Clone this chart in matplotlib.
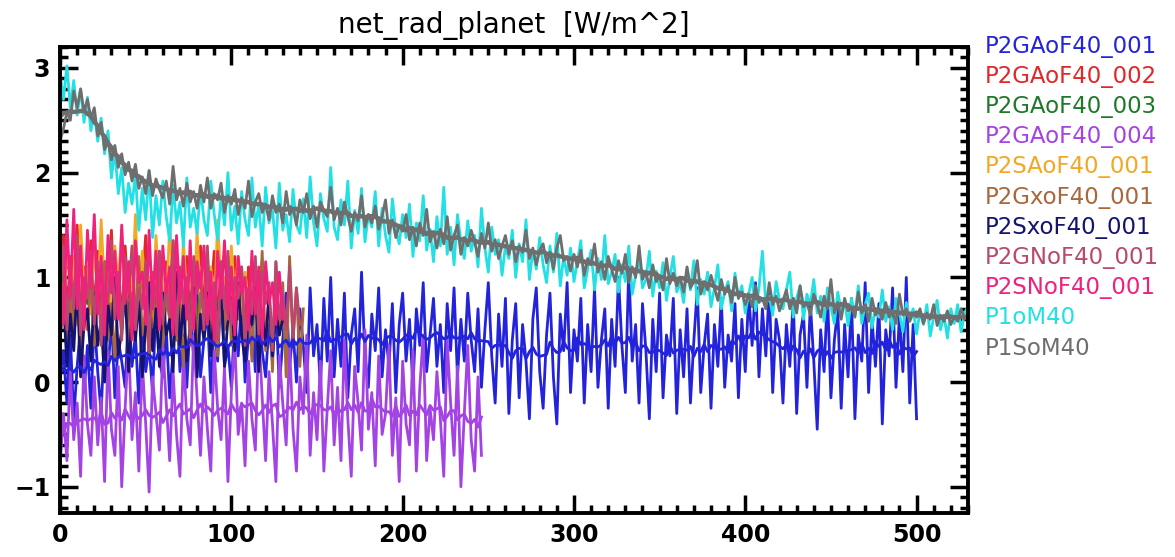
import numpy as np
import pandas as pd
import matplotlib
matplotlib.use("Agg")
import matplotlib.pyplot as plt
from matplotlib.ticker import MultipleLocator

# all runs sampled every 2 model years, starting at year 0
STEP = 2

names = ["P2GAoF40_001", "P2GAoF40_002", "P2GAoF40_003", "P2GAoF40_004",
         "P2SAoF40_001", "P2GxoF40_001", "P2SxoF40_001", "P2GNoF40_001",
         "P2SNoF40_001", "P1oM40", "P1SoM40"]
colors = ["#2323dc", "#e02828", "#1e7a28", "#a443e4", "#f2a825", "#a8673c",
          "#14146e", "#b8486c", "#f0207c", "#22e0e4", "#6e6e6e"]
# runs that get a running-mean curve on top
smoothed = ["P2GAoF40_001", "P2GAoF40_004", "P1SoM40"]

ga001 = [0.05, 0.30, -0.20, 0.45, -0.35, 0.15, 0.55, -0.10, 0.35, -0.25, 0.60,
         0.10, -0.30, 0.50, 0.05, 0.65, -0.15, 0.40, 0.20, -0.05, 0.70,
         0.15, 0.45, -0.20, 0.60, 0.10, 0.35, -0.10, 0.75, 0.20, 0.05,
         0.50, -0.15, 0.30, 0.80, 0.10, 0.45, -0.05, 0.62, 0.25, 0.85,
         0.05, 0.40, 0.70, -0.10, 0.55, 0.20, 0.90, 0.15, 0.35, -0.05,
         0.60, 0.25, 0.80, 0.00, 0.45, 0.65, 0.10, 0.95, 0.30, 0.05,
         0.55, 0.20, 0.75, -0.05, 0.40, 0.85, 0.15, 0.50, 0.00, 0.70,
         0.35, -0.10, 0.90, 0.25, 0.55, -0.05, 0.80, 0.20, 1.00, 0.05,
         0.60, 0.15, 0.85, -0.15, 0.45, 0.70, 0.10, 1.05, 0.25, -0.05,
         0.65, 0.30, 0.90, 0.05, 0.50, 0.15, 0.75, -0.10, 0.55, 0.85,
         0.20, 0.60, -0.05, 0.70, 0.35, 0.95, 0.10, 0.45, 0.80, 0.15,
         0.55, -0.10, 0.75, 0.30, 0.90, 0.05, 0.60, 0.20, 0.85, 0.40,
         0.10, 0.70, -0.05, 0.50, 0.95, 0.25, -0.20, 0.65, 0.15, 0.80,
         -0.30, 0.40, 0.75, -0.15, 0.55, 0.20, -0.35, 0.60, 0.90, 0.10,
         -0.25, 0.45, 0.85, 0.05, -0.40, 0.65, 0.30, 0.95, -0.10, 0.50,
         0.20, 0.80, -0.20, 0.55, 0.10, 0.90, -0.05, 0.40, 0.70, -0.25,
         0.60, 0.15, 1.00, 0.35, -0.10, 1.10, 0.20, 0.55, -0.20, 0.75,
         0.30, -0.35, 0.60, 0.10, 0.85, -0.15, 0.45, 0.25, 0.80, -0.30,
         0.50, 0.05, 0.70, -0.20, 0.40, 0.90, -0.10, 0.35, 0.65, -0.25,
         0.55, 0.15, 0.80, -0.05, 0.45, 0.20, 0.75, -0.15, 0.60, 0.10,
         0.85, 0.35, 0.95, 0.05, 0.70, 0.25, 0.90, -0.10, 0.60, 0.40,
         -0.20, 0.55, 0.15, 0.80, -0.30, 0.45, 0.65, -0.05, 0.75, 0.20,
         -0.45, 0.50, 0.10, 0.85, -0.15, 0.40, 0.70, -0.25, 0.55, 0.05,
         0.80, -0.35, 0.45, 0.20, 0.95, -0.10, 0.60, 0.15, 0.75, -0.40,
         0.50, 0.25, 0.90, -0.05, 0.65, 0.10, 1.00, -0.20, 0.55, -0.35]

ga002 = [0.90, 1.40, 0.60, 1.20, 0.75, 1.50, 0.55, 1.10, 0.85, 1.35, 0.65, 1.25,
         0.50, 1.15, 0.95, 1.45, 0.70, 1.05, 0.60, 1.30, 0.80, 1.20, 0.45, 1.10,
         0.90, 1.40, 0.65, 1.00, 0.75, 1.25, 0.55, 1.15, 0.85, 1.35, 0.60, 1.05,
         0.70, 1.20, 0.50, 1.10, 0.95, 1.30, 0.65, 1.00, 0.80, 1.25, 0.55, 1.15,
         0.75, 1.05, 0.60, 1.20, 0.85, 0.95, 0.50, 1.10, 0.70, 1.00, 0.65, 1.15, 0.80]

ga003 = [0.70, 1.10, 0.45, 0.95, 0.60, 1.20, 0.50, 0.85, 0.75, 1.05, 0.40, 0.90,
         0.65, 1.15, 0.55, 0.80, 0.70, 1.00, 0.45, 0.95, 0.60, 1.10, 0.50, 0.85,
         0.75, 1.05, 0.55, 0.90, 0.65, 1.00, 0.45, 0.85, 0.70, 1.10, 0.50, 0.95,
         0.60, 0.80, 0.75, 1.05, 0.55, 0.90, 0.65, 1.00, 0.50, 0.85, 0.70, 0.95,
         0.60, 0.80, 0.75]

ga004 = [-0.80, -0.30, -0.75, 0.10, -0.55, -0.20, -0.90, 0.25, -0.40, -0.70, 0.05,
         -0.60, -0.15, -0.95, 0.30, -0.45, -0.70, 0.15, -1.00, -0.25, 0.40,
         -0.55, -0.10, -0.85, 0.20, -0.40, -1.05, 0.05, -0.30, -0.65, 0.35,
         -0.20, -0.75, 0.10, -0.50, -0.90, 0.25, -0.35, -0.60, 0.45, -0.15,
         -0.70, 0.05, -0.45, -0.85, 0.30, -0.25, -0.55, 0.15, -0.95, -0.10,
         0.40, -0.50, -0.20, -0.80, 0.20, -0.35, -0.65, 0.50, -0.15, -0.75,
         0.10, -0.40, -0.95, 0.25, -0.20, -0.60, 0.35, -0.45, -0.85, 0.05,
         -0.30, 0.45, -0.70, -0.10, -0.55, 0.20, -0.85, -0.25, 0.30, -0.60,
         -0.05, -0.75, 0.40, -0.35, -0.90, 0.15, -0.20, -0.65, 0.50, -0.45,
         -0.10, -0.80, 0.25, -0.50, -0.30, 0.35, -0.70, -0.15, -0.95, 0.20,
         -0.40, -0.60, 0.30, -0.85, -0.05, 0.45, -0.75, -0.25, -0.55, 0.10,
         -0.35, -0.90, 0.40, -0.20, -0.70, 0.15, -1.00, -0.30, 0.35, -0.55,
         -0.85, 0.05, -0.70]

sa001 = [1.00, 0.60, 1.40, 0.80, 1.20, 0.55, 1.50, 0.90, 1.10, 0.65, 1.35, 0.75,
         1.55, 0.85, 1.05, 0.60, 1.30, 0.95, 1.45, 0.70, 1.15, 0.80, 1.60, 0.65,
         1.25, 0.90, 1.00, 0.55, 1.40, 0.85, 1.20, 0.70, 1.50, 0.95, 1.05, 0.60,
         1.35, 0.80, 1.15, 0.65, 1.45, 0.75, 1.25, 0.85, 1.10, 0.60, 1.55, 0.90,
         1.00, 0.70, 1.30, 0.80, 1.20, 0.65, 1.05, 0.75]

gx001 = [0.55, 0.95, 0.30, 0.85, 0.45, 1.10, 0.25, 0.70, 0.50, 1.00, 0.35, 0.80,
         0.60, 1.15, 0.40, 0.75, 0.20, 0.90, 0.55, 1.05, 0.30, 0.85, 0.65, 1.20,
         0.45, 0.70, 0.25, 0.95, 0.50, 1.10, 0.35, 0.80, 0.60, 1.00, 0.40, 0.75,
         0.15, 0.90, 0.55, 1.15, 0.30, 0.85, 0.65, 1.05, 0.45, 0.70, 0.25, 0.95,
         0.50, 1.20, 0.35, 0.80, 0.60, 1.10, 0.40, 0.75, 0.20, 1.00, 0.55, 1.25,
         0.30, 0.85, 0.10, 1.15, 0.45, 0.95, 0.05, 1.20, 0.40, 0.90, 0.15, 0.70]

sx001 = [0.40, 0.80, 0.15, 0.65, 0.30, 0.95, 0.05, 0.55, 0.70, 0.20, 0.85, 0.35,
         0.60, 0.00, 0.75, 0.45, 1.00, 0.25, 0.50, 0.90, 0.10, 0.65, 0.40, 0.80,
         0.05, 0.55, 0.95, 0.30, 0.70, 0.15, 0.85, 0.45, 0.60, 0.10, 1.05, 0.35,
         0.75, 0.20, 0.55, 0.90, 0.05, 0.65, 0.40, 0.85, 0.25, 0.70, 0.50, 1.00,
         0.15, 0.60, 0.80, 0.30, 0.95, 0.45, 0.20, 0.75, 0.55, 0.90, 0.10, 0.65,
         0.35, 0.85, 0.25, 0.70, 0.45, 0.60]

gn001 = [0.85, 1.30, 0.50, 1.10, 0.70, 1.40, 0.45, 1.00, 0.80, 1.25, 0.55, 1.15,
         0.35, 0.95, 0.75, 1.35, 0.60, 1.05, 0.40, 1.20, 0.85, 1.30, 0.50, 0.90,
         0.70, 1.15, 0.30, 1.05, 0.80, 1.25, 0.55, 0.95, 0.65, 1.35, 0.45, 1.10,
         0.75, 1.00, 0.35, 1.20, 0.85, 1.05, 0.50, 1.30, 0.60, 0.95, 0.40, 1.15,
         0.70, 1.25, 0.55, 1.00, 0.80, 1.10, 0.35, 0.90, 0.65, 1.20, 0.45, 1.05,
         0.75, 0.95, 0.30, 1.15, 0.60, 0.85, 0.50, 1.10, 0.40, 0.90, 0.55]

sn001 = [1.10, 0.55, 1.55, 0.80, 1.65, 0.70, 1.30, 0.50, 1.45, 0.90,
         1.60, 0.65, 1.20, 0.45, 1.40, 0.85, 1.25, 0.60, 1.50, 0.75,
         1.15, 0.40, 1.35, 0.95, 1.05, 0.55, 1.45, 0.70, 1.25, 0.50,
         1.30, 0.85, 1.10, 0.45, 1.40, 0.75, 1.20, 0.60, 1.35, 0.50,
         1.15, 0.90, 1.30, 0.55, 1.05, 0.40, 1.25, 0.80, 1.35, 0.60,
         1.10, 0.45, 1.20, 0.85, 1.00, 0.50, 1.25, 0.65, 1.10, 0.40,
         1.15, 0.75, 0.95, 0.55, 1.05, 0.60]

p1o = [2.95, 2.70, 3.02, 2.62, 2.88, 2.55, 2.80, 2.48, 2.72, 2.40, 2.58,
       2.30, 2.52, 2.18, 2.40, 1.95, 2.22, 1.80, 2.05, 1.62, 1.90,
       1.70, 1.98, 1.45, 1.85, 1.55, 2.02, 1.38, 1.78, 1.50, 1.92,
       1.58, 1.35, 1.88, 1.52, 1.72, 1.30, 1.95, 1.48, 1.66, 1.42,
       1.85, 1.55, 1.40, 1.92, 1.60, 1.36, 1.78, 1.50, 2.00, 1.45,
       1.68, 1.32, 1.82, 1.55, 1.40, 1.95, 1.48, 1.70, 1.30, 1.86,
       1.52, 1.65, 1.28, 1.90, 1.45, 1.60, 1.34, 1.84, 1.50, 1.42,
       1.75, 1.38, 1.96, 1.52, 1.30, 1.80, 1.56, 1.44, 2.05, 1.48,
       1.36, 1.74, 1.50, 1.92, 1.28, 1.64, 1.42, 1.85, 1.34, 1.60,
       1.48, 1.82, 1.30, 1.66, 1.40, 1.24, 1.75, 1.45, 1.32, 1.60,
       1.38, 1.70, 1.20, 1.52, 1.35, 1.78, 1.26, 1.46, 1.15, 1.58,
       1.30, 1.86, 1.22, 1.48, 1.12, 1.60, 1.34, 1.18, 1.54, 1.25,
       1.40, 1.10, 1.66, 1.28, 1.05, 1.48, 1.22, 1.36, 1.02, 1.30,
       1.18, 1.45, 1.00, 1.32, 1.15, 1.55, 0.98, 1.26, 1.08, 1.38,
       1.12, 0.95, 1.30, 1.05, 1.42, 0.92, 1.20, 1.02, 1.28, 0.96,
       1.15, 1.35, 0.90, 1.08, 1.26, 0.88, 1.18, 0.98, 1.40, 0.94,
       1.05, 1.22, 0.86, 1.12, 0.96, 1.30, 0.84, 1.02, 1.18, 0.90,
       0.98, 1.25, 0.82, 1.06, 0.90, 1.14, 0.78, 1.00, 1.20, 0.86,
       0.95, 0.76, 1.08, 0.88, 1.16, 0.74, 0.98, 0.84, 1.05, 0.72,
       0.90, 1.12, 0.70, 0.86, 0.96, 0.68, 1.04, 0.80, 0.92, 0.66,
       0.84, 1.00, 0.68, 0.90, 1.25, 0.74, 0.82, 0.64, 0.96, 0.78,
       0.70, 0.88, 1.05, 0.62, 0.80, 0.92, 0.60, 0.84, 0.74, 0.98,
       0.66, 0.82, 0.58, 0.90, 0.72, 0.56, 0.86, 0.68, 0.78, 0.54,
       0.80, 0.64, 0.92, 0.56, 0.74, 0.85, 0.52, 0.70, 0.62, 0.88,
       0.58, 0.72, 0.50, 0.80, 0.66, 0.48, 0.76, 0.60, 0.70, 0.46,
       0.68, 0.55, 0.74, 0.44, 0.62, 0.78, 0.50, 0.64, 0.42, 0.70,
       0.56, 0.74, 0.48, 0.66, 0.72]

p1so = [2.30, 2.42, 2.58, 2.50, 2.78, 2.62, 2.80, 2.58, 2.70, 2.52, 2.62,
        2.35, 2.48, 2.22, 2.30, 2.12, 2.26, 2.05, 2.18, 1.98, 2.10,
        1.92, 2.08, 1.85, 1.96, 1.80, 2.02, 1.78, 1.94, 1.84, 1.76,
        1.92, 1.70, 2.06, 1.74, 1.85, 1.68, 1.90, 1.72, 1.82, 1.66,
        1.88, 1.72, 1.95, 1.66, 1.80, 1.74, 1.90, 1.62, 1.78, 1.70,
        1.84, 1.60, 1.76, 1.66, 1.92, 1.58, 1.72, 1.80, 1.62, 1.70,
        1.55, 1.78, 1.62, 1.70, 1.52, 1.82, 1.60, 1.66, 1.50, 1.74,
        1.62, 1.80, 1.56, 1.68, 1.48, 1.72, 1.64, 1.58, 1.86, 1.55,
        1.66, 1.50, 1.72, 1.58, 1.44, 1.62, 1.54, 1.78, 1.48, 1.60,
        1.52, 1.68, 1.46, 1.58, 1.74, 1.42, 1.55, 1.38, 1.50, 1.44,
        1.60, 1.36, 1.48, 1.30, 1.52, 1.40, 1.65, 1.34, 1.44, 1.28,
        1.46, 1.32, 1.58, 1.26, 1.40, 1.50, 1.22, 1.38, 1.30, 1.45,
        1.34, 1.20, 1.42, 1.28, 1.52, 1.25, 1.36, 1.18, 1.30, 1.40,
        1.22, 1.35, 1.15, 1.30, 1.24, 1.45, 1.18, 1.28, 1.12, 1.26,
        1.32, 1.14, 1.24, 1.08, 1.28, 1.40, 1.16, 1.20, 1.06, 1.22,
        1.10, 1.26, 1.02, 1.18, 1.12, 1.32, 1.05, 1.15, 0.98, 1.20,
        1.08, 0.96, 1.16, 1.04, 1.22, 0.95, 1.10, 1.00, 1.30, 0.98,
        1.06, 0.90, 1.12, 0.96, 1.02, 0.88, 1.18, 0.94, 1.04, 0.92,
        1.00, 0.86, 1.10, 0.90, 0.96, 1.16, 0.84, 0.95, 0.88, 1.02,
        0.90, 0.78, 0.98, 0.84, 0.92, 0.76, 1.00, 0.80, 0.86, 0.74,
        0.84, 0.72, 0.92, 0.76, 0.80, 0.70, 0.95, 0.74, 0.82, 0.68,
        0.78, 0.88, 0.70, 0.80, 0.66, 0.92, 0.72, 0.76, 0.64, 0.84,
        0.74, 0.62, 0.82, 0.70, 0.98, 0.66, 0.76, 0.60, 0.80, 0.68,
        0.72, 0.62, 0.86, 0.66, 0.74, 0.58, 0.80, 0.64, 0.70, 0.60,
        0.76, 0.62, 0.68, 0.56, 0.84, 0.64, 0.70, 0.58, 0.66, 0.62,
        0.70, 0.56, 0.66, 0.60, 0.74, 0.54, 0.64, 0.58, 0.68, 0.55,
        0.63, 0.58, 0.70, 0.60, 0.64]

series = [ga001, ga002, ga003, ga004, sa001, gx001, sx001, gn001, sn001, p1o, p1so]

fig = plt.figure(figsize=(11.75, 5.57), dpi=100)
ax = fig.add_axes([0.0511, 0.079, 0.7727, 0.8366])

# raw series, drawn in legend order like the original
for vals, col in zip(series, colors):
    yrs = np.arange(len(vals)) * STEP
    ax.plot(yrs, vals, color=col, lw=2.0)

# running means for a few of the runs
for vals, col, nm in zip(series, colors, names):
    if nm not in smoothed:
        continue
    yrs = np.arange(len(vals)) * STEP
    sm = pd.Series(vals).rolling(11, center=True, min_periods=1).mean()
    lw = 3.2 if nm == "P1SoM40" else 2.0
    ax.plot(yrs, sm, color=col, lw=lw)

ax.set_xlim(0, 530)
ax.set_ylim(-1.25, 3.2)
ax.xaxis.set_major_locator(MultipleLocator(100))
ax.xaxis.set_minor_locator(MultipleLocator(10))
ax.yaxis.set_major_locator(MultipleLocator(1))
ax.yaxis.set_minor_locator(MultipleLocator(0.1))
ax.tick_params(which="both", direction="in", top=True, right=True, width=2.5)
ax.tick_params(which="major", length=13, labelsize=17, pad=7)
ax.tick_params(which="minor", length=6)
for lab in ax.get_xticklabels() + ax.get_yticklabels():
    lab.set_fontweight("bold")
for sp in ax.spines.values():
    sp.set_linewidth(2.8)

fig.text(0.4375, 0.928, "net_rad_planet  [W/m^2]", ha="center", va="bottom",
         fontsize=20)

# legend as coloured names down the right side
for i, (nm, col) in enumerate(zip(names, colors)):
    fig.text(0.838, 0.917 - i * 0.0542, nm, color=col, fontsize=16.5,
             ha="left", va="center")

fig.savefig("out.png", dpi=100)
